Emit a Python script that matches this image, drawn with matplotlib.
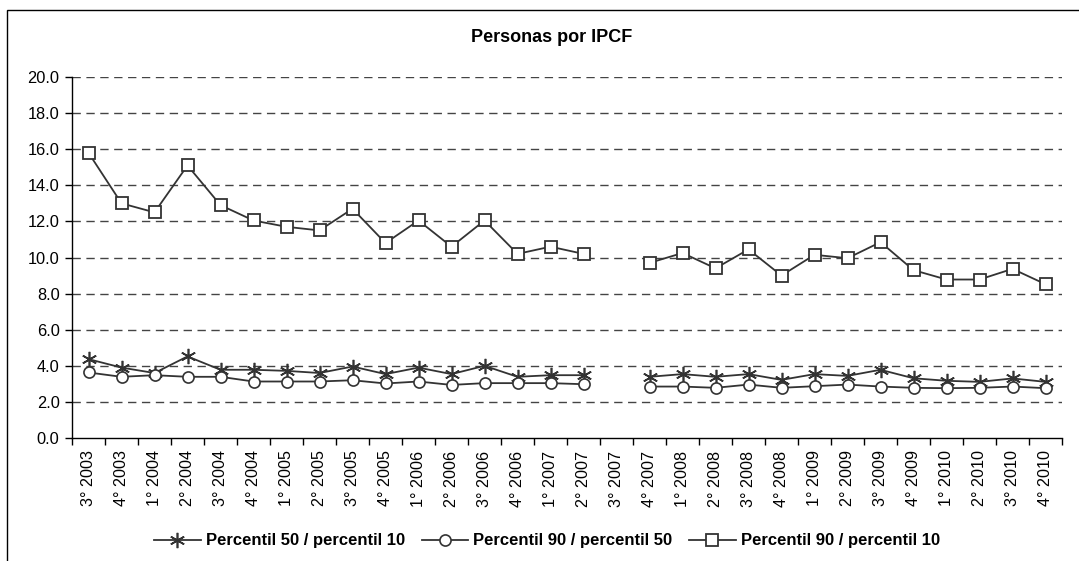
import numpy as np
import matplotlib
matplotlib.use("Agg")
import matplotlib.pyplot as plt
from matplotlib.patches import Rectangle

plt.rcParams['font.family'] = ['Liberation Sans', 'DejaVu Sans']

quarters = ["3° 2003", "4° 2003", "1° 2004", "2° 2004", "3° 2004", "4° 2004",
            "1° 2005", "2° 2005", "3° 2005", "4° 2005", "1° 2006", "2° 2006",
            "3° 2006", "4° 2006", "1° 2007", "2° 2007", "3° 2007", "4° 2007",
            "1° 2008", "2° 2008", "3° 2008", "4° 2008", "1° 2009", "2° 2009",
            "3° 2009", "4° 2009", "1° 2010", "2° 2010", "3° 2010", "4° 2010"]

nan = np.nan
p50_p10 = [4.37, 3.90, 3.60, 4.52, 3.78, 3.78, 3.72, 3.60, 3.96, 3.54, 3.90, 3.54,
           4.00, 3.39, 3.48, 3.48, nan, 3.39, 3.54, 3.39, 3.54, 3.22, 3.54, 3.44,
           3.78, 3.31, 3.17, 3.11, 3.30, 3.11]
p90_p50 = [3.63, 3.39, 3.48, 3.39, 3.39, 3.13, 3.13, 3.13, 3.20, 3.02, 3.13, 2.94,
           3.04, 3.04, 3.04, 2.98, nan, 2.85, 2.85, 2.78, 2.96, 2.78, 2.87, 2.96,
           2.85, 2.78, 2.76, 2.78, 2.85, 2.76]
p90_p10 = [15.8, 13.0, 12.5, 15.1, 12.9, 12.05, 11.7, 11.5, 12.7, 10.8, 12.05, 10.6,
           12.05, 10.2, 10.6, 10.2, nan, 9.7, 10.25, 9.4, 10.45, 9.0, 10.15, 9.96,
           10.85, 9.3, 8.78, 8.78, 9.37, 8.52]

fig = plt.figure(figsize=(10.79, 5.61), dpi=100)
ax = fig.add_axes([72 / 1079, 1 - 438 / 561, (1062 - 72) / 1079, (438 - 77) / 561])

# chart frame (Excel chart area border)
fig.patches.append(Rectangle((7 / 1079, -0.1), 1.2, 1 - 10 / 561 + 0.1,
                             transform=fig.transFigure, fill=False,
                             edgecolor='black', linewidth=1.0))

x = np.arange(len(quarters))
lc = '#333333'
ax.plot(x, p50_p10, color=lc, lw=1.3, marker=(6, 2, 0), ms=11, mew=1.2,
        mec=lc, label='Percentil 50 / percentil 10', zorder=3)
ax.plot(x, p90_p50, color=lc, lw=1.3, marker='o', ms=8, mew=1.2,
        mec=lc, mfc='white', label='Percentil 90 / percentil 50', zorder=3)
ax.plot(x, p90_p10, color=lc, lw=1.3, marker='s', ms=8, mew=1.3,
        mec=lc, mfc='white', label='Percentil 90 / percentil 10', zorder=3)

ax.set_ylim(0, 20)
ax.set_yticks(np.arange(0, 20.1, 2))
ax.set_yticklabels([f"{v:.1f}" for v in np.arange(0, 20.1, 2)], fontsize=11.8)
ax.set_xlim(-0.5, len(quarters) - 0.5)
ax.set_xticks(x)
ax.set_xticklabels(quarters, rotation=90, fontsize=11.6)
ax.set_xticks(np.arange(-0.5, len(quarters), 1), minor=True)
ax.tick_params(axis='x', which='major', length=0, pad=9)
ax.tick_params(axis='x', which='minor', length=5, direction='out', width=1)
ax.tick_params(axis='y', length=5, direction='out', width=1, pad=4)

for v in np.arange(2, 20.1, 2):
    ax.axhline(v, color='#444444', lw=1.0, ls=(0, (6, 4)), zorder=1)

for s in ['top', 'right']:
    ax.spines[s].set_visible(False)
ax.spines['left'].set_linewidth(1.0)
ax.spines['bottom'].set_linewidth(1.0)

fig.text(552 / 1079, 1 - 37 / 561, 'Personas por IPCF', ha='center', va='center',
         fontsize=13, fontweight='bold')

fig.legend(loc='center', bbox_to_anchor=(547 / 1079, 1 - 541 / 561), ncol=3,
           frameon=False, prop={'weight': 'bold', 'size': 12},
           handlelength=2.8, columnspacing=1.0, handletextpad=0.3)

fig.savefig('out.png', dpi=100)
